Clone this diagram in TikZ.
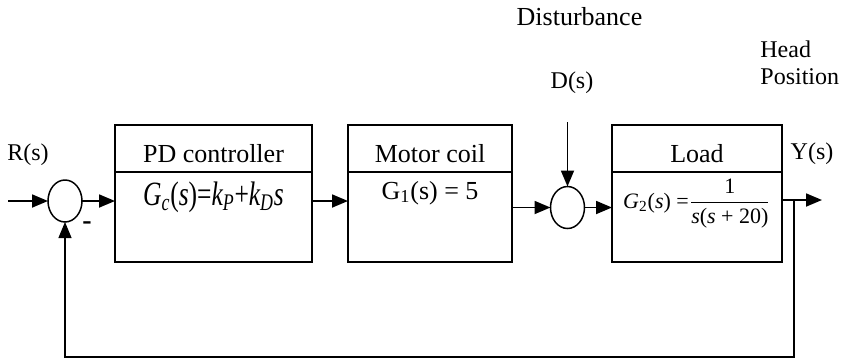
\documentclass[tikz,border=0pt]{standalone}
\usepackage{amsmath}
\usepackage{fontspec}
\setmainfont{Liberation Serif}
\usetikzlibrary{arrows.meta,positioning,shapes.geometric}
\tikzset{
  arr/.style={-{Triangle[length=8pt,width=6.5pt]},line width=0.9pt},
  fbk/.style={-{Triangle[length=8pt,width=6.5pt]},line width=0.6pt},
  ttl/.style={draw,line width=0.75pt,inner sep=0pt,outer sep=0pt,minimum height=23.5pt,text height=18.5pt,text depth=5pt,font=\fontsize{13}{15}\selectfont},
  body/.style={draw,line width=0.75pt,inner sep=0pt,outer sep=0pt,minimum height=45pt,text height=16pt,text depth=29pt},
  sum/.style={draw,ellipse,line width=0.75pt,inner sep=0pt,outer sep=0pt,minimum width=17pt,minimum height=21pt},
  lab/.style={inner sep=0pt,font=\fontsize{12}{13.5}\selectfont,align=left}
}
\begin{document}
\begin{tikzpicture}[x=0.5pt,y=-0.5pt]
  \useasboundingbox (0,0) rectangle (841,360);
  % blocks
  \node[ttl,minimum width=98.5pt] (pdt) at (213.5,148.5) {PD controller};
  \node[body,minimum width=98.5pt,below=0pt of pdt,text height=16.5pt,text depth=28.5pt,font=\fontsize{17}{19}\selectfont] (pd) {\scalebox{0.75}[1]{\textit{G\textsubscript{c}}(\textit{s})=\textit{k\textsubscript{P}}+\textit{k\textsubscript{D}s}}};
  \node[ttl,minimum width=82pt] (motort) at (430,148.5) {Motor coil};
  \node[body,minimum width=82pt,below=0pt of motort,text height=13.5pt,text depth=31.5pt,font=\fontsize{13}{15}\selectfont] (motor) {G\textsubscript{1}(s) = 5};
  \node[ttl,minimum width=85pt] (loadt) at (697,148.5) {Load};
  \node[body,minimum width=85pt,below=0pt of loadt,text height=18pt,text depth=27pt,font=\fontsize{11}{13}\selectfont] (load) {$\text{\textit{G}\textsubscript{2}(\textit{s}) =}\dfrac{\text{1}}{\text{\textit{s}(\textit{s} + 20)}}$};
  % summing points
  \node[sum] (s1) at (65,201) {};
  \node[sum] (s2) at (567.5,207.5) {};
  % labels
  \node[lab] (rlab) at (28,155) {R(s)};
  \node[lab] (ylab) at (812,154) {Y(s)};
  \node[lab] (dlab) at (572,83) {D(s)};
  \node[lab,font=\fontsize{13}{15}\selectfont] (dist) at (579.5,17) {Disturbance};
  \node[lab,anchor=west] (head) at (760,63) {Head\\Position};
  \node[lab,font=\fontsize{14}{15}\selectfont\bfseries] (minus) at (87,226) {-};
  % free ends
  \coordinate (rin) at (8,201);
  \coordinate (yout) at (822,200);
  \coordinate (fb) at (794,200);
  \coordinate (fbb) at (794,357);
  \coordinate (din) at (567.5,122);
  % signals
  \draw[arr] (rin) -- (s1);
  \draw[arr] (s1) -- (s1 -| pd.west);
  \draw[arr] (pd.east |- s1) -- (motor.west |- s1);
  \draw[arr] (motor.east |- s2) -- (s2);
  \draw[arr] (s2) -- (load.west |- s2);
  \draw[arr] (load.east |- yout) -- (yout);
  \draw[arr] (din) -- (s2);
  \draw[fbk] (fb) -- (fbb) -| (s1.south);
\end{tikzpicture}
\end{document}
